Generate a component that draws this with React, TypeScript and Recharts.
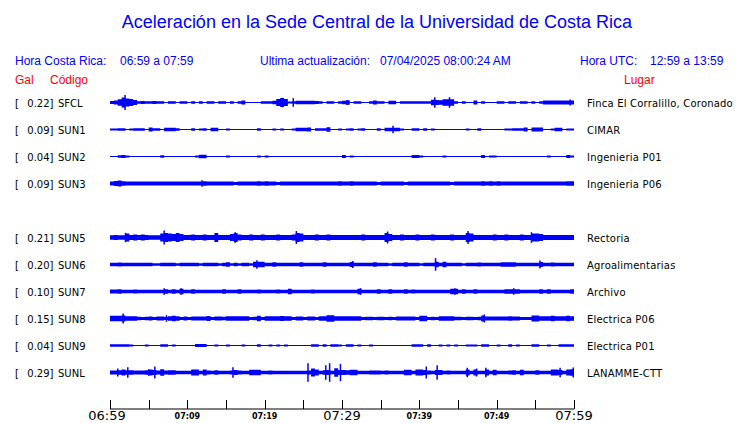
import { ComposedChart, Area, Scatter, ErrorBar, XAxis, YAxis } from 'recharts';

// Envelope half-amplitudes, one value per 30 s bin (120 bins = 60 min).
const SFCL = [
  1.5, 2, 3.3, 5, 4, 3.5, 2.5, 1.3, 1.5, 1.3, 1.3, 1.5, 1.3, 1.3, 0.6, 1.3, 1.3, 0.6, 1.3, 1.3,
  0.6, 1.3, 0.6, 1.3, 0.6, 1.3, 1.3, 0.6, 1.3, 1.3, 0.6, 1.3, 0.6, 1.3, 2, 0.6, 0.6, 0.6, 0.6, 1.2,
  1.3, 1.2, 1.7, 3.5, 4.5, 3.5, 1, 1.3, 1.7, 1.7, 1.7, 1.7, 1.7, 1.5, 1.3, 0.6, 1.3, 1.3, 0.6, 1.3,
  1.7, 2.3, 0.6, 1.3, 1.3, 0.6, 0.6, 1.3, 2, 1.3, 1.3, 0.6, 1.7, 1.7, 0.6, 1.3, 1.3, 1.3, 1.3, 1.3,
  1.3, 1.3, 1.3, 2.7, 2.5, 2.3, 3.3, 3.3, 3.3, 1.3, 0.6, 1.3, 0.6, 0.6, 2, 0.6, 1.3, 0.6, 0.6, 0.6,
  1.3, 1.3, 0.6, 1.3, 1.3, 0.6, 1.3, 1.3, 0.6, 1.3, 0.6, 1.3, 2, 2, 2, 2, 2, 2, 2, 2,
];
const SUN1 = [
  1, 1, 1.3, 1.3, 0.6, 1, 1.3, 1.3, 1.3, 0.6, 2, 1.3, 1.3, 0.6, 1.7, 1.7, 1.7, 1.3, 0.6, 0.6,
  0.6, 1.3, 0.6, 1, 1.3, 0.6, 1.7, 1.7, 0.6, 0.6, 1, 0.6, 0.6, 0.6, 0.6, 0.6, 0.6, 0.6, 1.3, 0.6,
  0.6, 0.6, 1, 0.6, 1, 0.6, 0.6, 1, 1.7, 1.7, 1.7, 2, 0.6, 1.3, 1.3, 1.3, 2.3, 0.6, 0.6, 1,
  0.6, 1, 1.3, 0.6, 1, 1.3, 0.6, 0.6, 0.6, 1.3, 0.6, 1.7, 1.7, 1.7, 1.7, 1, 0.6, 0.6, 1.3, 1.3,
  0.6, 1.3, 0.6, 1, 0.6, 0.6, 0.6, 0.6, 0.6, 0.6, 0.6, 0.6, 1, 0.6, 0.6, 1.3, 0.6, 0.6, 0.6, 0.6,
  0.6, 0.6, 1, 1, 1.3, 1.3, 1.3, 2, 0.6, 2, 2, 2, 0.6, 0.6, 1, 1.7, 1.7, 0.6, 1, 1,
];
const SUN2 = [
  0.6, 0.6, 1.3, 1.5, 1, 0.6, 0.6, 0.6, 0.6, 0.6, 0.6, 0.6, 0.6, 1.3, 0.6, 0.6, 0.6, 0.6, 0.6, 0.6,
  0.6, 0.6, 1, 1.7, 1.7, 0.6, 0.6, 0.6, 0.6, 0.6, 1, 0.6, 0.6, 0.6, 0.6, 0.6, 0.6, 0.6, 1, 0.6,
  1, 0.6, 0.6, 0.6, 0.6, 0.6, 0.6, 0.6, 0.6, 0.6, 0.6, 0.6, 0.6, 0.6, 0.6, 0.6, 0.6, 0.6, 0.6, 0.6,
  1.5, 0.6, 1, 0.6, 0.6, 0.6, 0.6, 0.6, 0.6, 0.6, 0.6, 0.6, 0.6, 0.6, 0.6, 0.6, 0.6, 0.6, 1.5, 1.5,
  1, 0.6, 0.6, 0.6, 0.6, 0.6, 1, 0.6, 0.6, 0.6, 0.6, 0.6, 0.6, 0.6, 0.6, 0.6, 1.5, 0.6, 1, 1,
  0.6, 0.6, 0.6, 0.6, 0.6, 0.6, 0.6, 0.6, 0.6, 0.6, 0.6, 0.6, 0.6, 1, 0.6, 0.6, 0.6, 0.6, 1.5, 1,
];
const SUN3 = [
  2, 2.5, 3, 2.3, 2, 2, 2, 2, 2, 2, 2, 2, 2, 2, 2, 2, 2, 2, 2, 2,
  2, 2, 2, 2, 2.3, 2, 2, 2, 2, 2, 2, 2, 1.5, 2, 2, 2, 2, 2, 2.3, 2,
  2.3, 2, 2, 1.5, 2, 2, 2, 2, 2, 2, 2, 2, 2, 2, 2, 2, 2, 2, 2, 2.3,
  2, 2, 2.3, 2, 2, 2, 2, 2, 2, 1.5, 2, 2, 2, 2, 2, 2, 1.5, 2, 2, 2,
  2, 2, 2, 2, 2, 2, 2, 2, 1.5, 2, 2, 2, 2, 2, 2, 2, 2.3, 2, 2.3, 2,
  2.2, 2, 2, 2, 2, 2, 2, 2, 2, 2, 2, 2, 2, 2, 2, 2, 2, 2, 2.3, 2.3,
];
const SUN5 = [
  2.3, 2.5, 2.3, 2.3, 4, 2.5, 3, 2.5, 3, 2.5, 2.3, 2.3, 2.3, 4, 4.5, 4, 3.5, 4.5, 3.5, 2.5,
  2.5, 3, 2.5, 2.5, 3, 2.5, 2.5, 4.5, 2.5, 2.5, 2.5, 3.5, 4.5, 3, 2.5, 2.5, 3, 2.5, 2.5, 3,
  2.5, 2.5, 2.5, 3, 2.5, 2.5, 2.5, 3, 4.5, 4, 2.5, 2.5, 2.5, 3, 2.5, 2.5, 3, 2.5, 2.5, 2.5,
  2.5, 2.5, 2.5, 2.5, 2.5, 3, 2.5, 2.5, 2.5, 2.5, 2.5, 4.5, 3.5, 2.5, 2.5, 3, 2.5, 2.5, 2.5, 3,
  2.5, 2.5, 2.5, 3, 2.5, 2.5, 2.5, 2.5, 3, 2.5, 2.5, 2.5, 4.5, 4, 2.5, 2.5, 2.5, 2.5, 2.5, 3,
  2.5, 2.5, 3, 2.5, 2.5, 2.5, 3, 2.5, 2.5, 4, 4, 3.5, 2.5, 2.5, 2.5, 2.5, 2.5, 2.5, 2.5, 2.5,
];
const SUN6 = [
  1.8, 1.8, 2, 1.8, 1.8, 1.8, 1.8, 1.8, 1.8, 1.8, 1.8, 1.3, 1.3, 1.8, 1.8, 1.8, 1.8, 1.3, 1.8, 1.8,
  1.8, 1.8, 1.8, 1.3, 1.8, 1.8, 1.8, 1.8, 1.3, 1.8, 2.3, 1.3, 1.8, 1.3, 1.8, 1.8, 1.3, 2.7, 2.7, 2.7,
  1.8, 1.8, 2.3, 1.8, 1.8, 1.8, 1.8, 1.8, 1.8, 2.2, 1.8, 1.8, 1.8, 1.8, 1.8, 2.3, 1.8, 1.8, 1.8, 1.8,
  1.8, 1.8, 2.5, 1.8, 1.8, 1.8, 1.8, 1.8, 2.3, 1.8, 1.8, 1.8, 1.3, 1.8, 1.8, 1.8, 2.3, 1.8, 1.8, 1.8,
  1.3, 1.8, 1.8, 1.8, 2.7, 1.8, 2.7, 1.8, 1.8, 1.8, 1.8, 1.3, 1.8, 1.8, 1.8, 2, 1.8, 1.8, 1.8, 1.8,
  1.8, 2.2, 2.2, 2.2, 2.2, 1.8, 1.8, 1.8, 1.8, 1.8, 1.8, 2.5, 1.8, 1.8, 2, 1.8, 1.8, 1.8, 1.8, 1.8,
];
const SUN7 = [
  2, 2, 2.3, 1.7, 1.7, 1.7, 2, 1.7, 1.7, 1.7, 1.7, 1.7, 1.7, 1.7, 2.3, 1.7, 2.2, 1.7, 2.7, 1.7,
  1.7, 2.2, 1.7, 1.7, 1.7, 1.7, 1.7, 1.7, 1.7, 2.3, 1.7, 1.7, 1.7, 2.2, 1.7, 1.7, 1.7, 1.7, 2, 1.7,
  1.7, 1.7, 1.7, 2, 1.7, 1.7, 2.7, 1.7, 1.7, 1.7, 1.7, 1.7, 2, 1.7, 1.7, 1.7, 1.7, 1.7, 1.7, 1.7,
  1.7, 1.7, 1.7, 1.7, 2.7, 1.7, 1.7, 1.7, 1.7, 2.2, 1.7, 1.7, 2.2, 1.7, 1.7, 1.7, 2.2, 1.7, 2, 1.7,
  1.7, 1.7, 1.7, 1.7, 1.7, 1.7, 1.7, 1.7, 2.7, 2.7, 1.7, 2.2, 1.7, 1.7, 2.2, 1.7, 1.7, 1.7, 1.7, 1.7,
  1.7, 1.7, 2.3, 2.3, 2.3, 2.3, 1.7, 1.7, 1.7, 1.7, 1.7, 2.2, 1.7, 2.2, 1.7, 1.7, 1.7, 1.7, 1.7, 2.2,
];
const SUN8 = [
  2.7, 2.7, 2.7, 3, 2.3, 2.3, 2.3, 1.7, 1.5, 1.7, 2, 1.5, 2, 2, 1.5, 2.3, 2.7, 2.3, 1.5, 2,
  1.5, 2, 2, 2, 2, 2.5, 1.5, 2, 2, 1.7, 2.3, 2.3, 2.3, 2.3, 2.3, 2.3, 1.5, 1.7, 2.7, 1.5,
  2.3, 2.3, 2.3, 2.3, 2.5, 2.3, 2.3, 1.5, 2, 2, 1.5, 2, 2, 1.5, 2.3, 2.3, 3.3, 3.3, 2.3, 2.3,
  2.3, 2.3, 2.3, 2.3, 2.3, 1.5, 1.7, 1.7, 1.5, 1.7, 1.7, 1.5, 1.7, 1.5, 2, 2, 2, 2, 2, 1.5,
  2.7, 2.7, 1.5, 1.7, 1.5, 2.3, 2.3, 2.3, 2.3, 1.7, 1.7, 1.5, 1.7, 1.7, 1.5, 1.7, 3, 2, 2, 2,
  2, 2, 2, 2.3, 2, 2, 1.5, 1.5, 1.5, 3, 3, 2.3, 2.3, 2.3, 2.7, 2.3, 2.3, 2.3, 2.7, 2.3,
];
const SUN9 = [
  1.3, 1.3, 1.3, 1.3, 1.3, 1, 0.6, 0.6, 0.6, 1, 0.6, 0.6, 0.6, 1.3, 1.3, 0.6, 1, 0.6, 0.6, 0.6,
  0.6, 0.6, 1.5, 1.5, 1.5, 0.6, 0.6, 1, 0.6, 0.6, 1, 0.6, 0.6, 0.6, 1, 0.6, 0.6, 0.6, 1.3, 0.6,
  0.6, 1, 0.6, 1, 0.6, 1, 0.6, 0.6, 0.6, 0.6, 0.6, 0.6, 1.3, 1.3, 0.6, 1.3, 0.6, 1.3, 1.3, 1,
  0.6, 1.3, 1.3, 0.6, 1, 0.6, 0.6, 1, 0.6, 0.6, 0.6, 0.6, 0.6, 0.6, 0.6, 0.6, 0.6, 0.6, 1.3, 1.3,
  1.3, 0.6, 1.3, 0.6, 0.6, 1, 0.6, 1, 0.6, 1, 0.6, 0.6, 1, 1, 1, 0.6, 1.3, 1.3, 0.6, 0.6,
  1, 0.6, 0.6, 1.3, 0.6, 1, 0.6, 0.6, 0.6, 1.3, 1.3, 0.6, 0.6, 1, 0.6, 0.6, 1.3, 1.3, 1.3, 1.3,
];
const SUNL = [
  2, 2, 2.3, 3, 2.3, 2.3, 2, 2, 2, 2.3, 3, 2.5, 2, 3.3, 2, 2.3, 2.3, 1.7, 1.7, 1.7,
  1.7, 3, 3, 1.7, 3, 2, 1.7, 2.3, 1.7, 1.7, 1.7, 2, 2.5, 2, 1.7, 1.7, 2.7, 2.7, 2.7, 1.7,
  1.7, 2, 1.7, 1.7, 1.7, 1.7, 1.7, 1.7, 1.7, 1.7, 1.7, 2, 4, 3, 1.7, 2.2, 2.5, 1.7, 4.3, 2.5,
  2.5, 2.3, 2.7, 2.7, 1.7, 1.7, 1.7, 2, 2, 2, 1.7, 2, 1.7, 1.7, 1.7, 1.7, 2.7, 2.7, 1.7, 3,
  3, 2.5, 2, 1.7, 2.5, 2.5, 1.7, 2, 1.7, 1.7, 1.7, 1.7, 3, 1.7, 3, 1.7, 1.7, 3, 1.7, 2.7,
  1.7, 1.7, 1.7, 2, 2.3, 1.7, 2.7, 1.7, 1.7, 1.7, 2.3, 1.7, 1.7, 1.7, 3, 3, 2.5, 1.7, 3, 3.3,
];

// Narrow peaks: [minute after 06:59, half-amplitude]
const SFCL_PEAKS = [[1.94, 7.5], [22.3, 4.7], [23.7, 4.3], [30.7, 2.3], [42.0, 5.3], [43.9, 5.3], [59.5, 3]];
const SUN1_PEAKS = [[36.6, 3.7]];
const SUN3_PEAKS = [[11.9, 3.3]];
const SUN5_PEAKS = [[2.0, 4.7], [7.0, 7], [16.2, 5.3], [24.1, 6.5], [35.9, 6], [46.3, 6.5], [54.5, 5.3]];
const SUN6_PEAKS = [[19.0, 4.3], [31.4, 3.5], [42.1, 6.3], [55.6, 4]];
const SUN7_PEAKS = [[7.0, 3.3], [9.2, 3.3], [32.4, 3.3], [44.6, 3.3], [52.2, 3.3]];
const SUN8_PEAKS = [[1.7, 5], [7.3, 3.3], [48.4, 4]];
const SUNL_PEAKS = [
  [1.0, 4], [2.3, 5.3], [5.0, 3.3], [5.8, 6], [15.9, 5.3], [25.6, 9.3], [27.9, 7.3], [28.4, 9.3],
  [29.8, 8.7], [40.9, 6], [42.3, 7.3], [46.2, 4.7], [47.4, 4], [48.6, 4.7], [58.2, 4.7], [59.9, 5],
];

const CODES = ['SFCL', 'SUN1', 'SUN2', 'SUN3', 'SUN5', 'SUN6', 'SUN7', 'SUN8', 'SUN9', 'SUNL'];
const GALS = ['0.22', '0.09', '0.04', '0.09', '0.21', '0.20', '0.10', '0.15', '0.04', '0.29'];
const PLACES = [
  'Finca El Corralillo, Coronado', 'CIMAR', 'Ingenieria P01', 'Ingenieria P06', 'Rectoria',
  'Agroalimentarias', 'Archivo', 'Electrica P06', 'Electrica P01', 'LANAMME-CTT',
];
const SLOTS = [0, 1, 2, 3, 5, 6, 7, 8, 9, 10];
const ENVELOPES = [SFCL, SUN1, SUN2, SUN3, SUN5, SUN6, SUN7, SUN8, SUN9, SUNL];
const PEAKS = [SFCL_PEAKS, SUN1_PEAKS, [], SUN3_PEAKS, SUN5_PEAKS, SUN6_PEAKS, SUN7_PEAKS, SUN8_PEAKS, [], SUNL_PEAKS];

const TICK_VALUES = [0, 5, 10, 15, 20, 25, 30, 35, 40, 45, 50, 55, 60];
const TICK_LABELS = ['06:59', '', '07:09', '', '07:19', '', '07:29', '', '07:39', '', '07:49', '', '07:59'];
const BIG_LABELS = ['06:59', '07:29', '07:59'];

const W = 740;
const H = 423;
const BLUE = '#0000ff';
const RED = '#ff0000';
const FIRST_ROW = 102.5;
const ROW_GAP = 27;
const baseOf = (i: number) => FIRST_ROW + ROW_GAP * SLOTS[i];

const BINS = 120;
const rows = Array.from({ length: BINS + 1 }, (_, b) => {
  const row: any = { t: b * 0.5 };
  CODES.forEach((c, i) => {
    const a = ENVELOPES[i][Math.min(b, BINS - 1)];
    row[c] = [baseOf(i) - a, baseOf(i) + a];
  });
  return row;
});

const peakRows = CODES.map((_, i) => PEAKS[i].map(([t, amp]) => ({ t, y: baseOf(i), amp })));

function TimeTick(props: any) {
  const { x, y, payload } = props;
  const idx = TICK_VALUES.indexOf(payload.value);
  const label = TICK_LABELS[idx] || '';
  const big = BIG_LABELS.includes(label);
  const px = Math.round(x) + 0.5;
  return (
    <g>
      <line x1={px} x2={px} y1={y - 9} y2={y} stroke="#000" strokeWidth={1} />
      {label && (
        <text
          x={x + (idx === 0 ? -3 : 0)}
          y={big ? y + 11 : y + 10}
          textAnchor="middle"
          fontFamily="DejaVu Sans"
          fontSize={big ? 13 : 8}
          fontWeight={big ? 400 : 700}
          fill="#000"
        >
          {label}
        </text>
      )}
    </g>
  );
}

export default function App() {
  return (
    <div style={{ position: 'absolute', left: 0, top: 0, width: W, height: H, background: '#fff' }}>
      <ComposedChart width={W} height={H} data={rows} margin={{ top: 0, right: 166, bottom: 0, left: 110 }}>
        <XAxis
          type="number"
          dataKey="t"
          domain={[0, 60]}
          ticks={TICK_VALUES}
          interval={0}
          allowDataOverflow
          height={14}
          tickSize={0}
          tickMargin={0}
          tickLine={false}
          axisLine={{ stroke: '#000' }}
          tick={<TimeTick />}
        />
        <YAxis type="number" hide domain={[0, 409]} reversed allowDataOverflow />
        {CODES.map((c) => (
          <Area
            key={c}
            type="stepAfter"
            dataKey={c}
            stroke="none"
            fill={BLUE}
            fillOpacity={1}
            dot={false}
            activeDot={false}
            isAnimationActive={false}
          />
        ))}
        {CODES.map((c, i) =>
          peakRows[i].length ? (
            <Scatter
              key={c + '-pk'}
              data={peakRows[i]}
              dataKey="y"
              fill="none"
              stroke="none"
              shape={<g />}
              legendType="none"
              isAnimationActive={false}
            >
              <ErrorBar dataKey="amp" direction="y" width={0} stroke={BLUE} strokeWidth={1.5} isAnimationActive={false} />
            </Scatter>
          ) : null
        )}
      </ComposedChart>
      <svg width={W} height={H} style={{ position: 'absolute', left: 0, top: 0, pointerEvents: 'none' }}>
        <text x={377} y={28} textAnchor="middle" fontFamily="Liberation Sans" fontSize={18} fill={BLUE}>
          Aceleración en la Sede Central de la Universidad de Costa Rica
        </text>
        <g fontFamily="Liberation Sans" fontSize={12} fill={BLUE}>
          <text x={15} y={65}>Hora Costa Rica:</text>
          <text x={120} y={65}>06:59 a 07:59</text>
          <text x={260} y={65}>Ultima actualización:</text>
          <text x={380} y={65}>07/04/2025 08:00:24 AM</text>
          <text x={580} y={65}>Hora UTC:</text>
          <text x={650} y={65}>12:59 a 13:59</text>
        </g>
        <g fontFamily="Liberation Sans" fontSize={12} fill={RED}>
          <text x={15} y={84}>Gal</text>
          <text x={50} y={84}>Código</text>
          <text x={624} y={84}>Lugar</text>
        </g>
        <g fontFamily="DejaVu Sans" fontSize={10} fill="#000">
          {CODES.map((c, i) => (
            <g key={c}>
              <text x={15} y={baseOf(i) + 4}>[</text>
              <text x={53.5} y={baseOf(i) + 4} textAnchor="end">{GALS[i] + ']'}</text>
              <text x={58} y={baseOf(i) + 4}>{c}</text>
              <text x={587} y={baseOf(i) + 4} letterSpacing={0.2}>{PLACES[i]}</text>
            </g>
          ))}
        </g>
      </svg>
    </div>
  );
}
